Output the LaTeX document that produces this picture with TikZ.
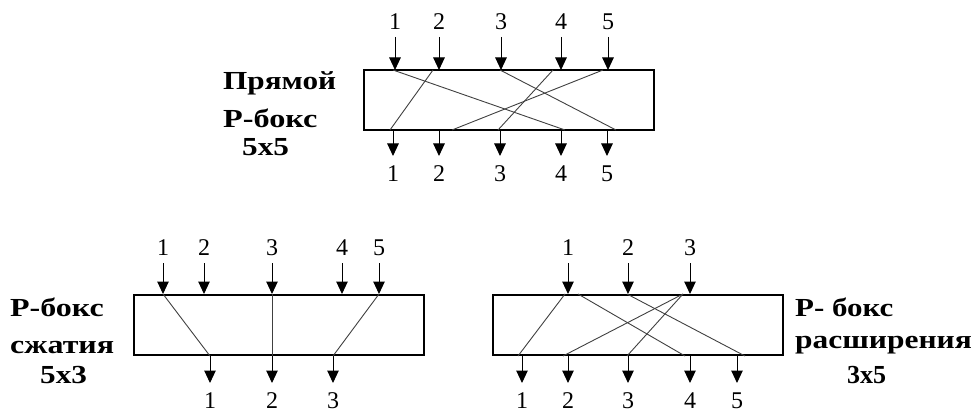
\documentclass[tikz,border=0pt]{standalone}
\usepackage{fontspec}
\setmainfont{Liberation Serif}
\usetikzlibrary{arrows.meta}
\tikzset{
  pbox/.style={draw, line width=1.7pt, minimum width=290pt, minimum height=60pt, inner sep=0pt},
  arr/.style={line width=1pt, -{Triangle[length=12.5pt,width=11.5pt]}},
  wire/.style={line width=0.9pt, black!75},
  num/.style={font=\fontsize{24}{24}\selectfont, inner sep=0pt},
  lbl/.style={font=\fontsize{26}{26}\bfseries\selectfont, inner sep=0pt, anchor=west}
}
\newcommand{\wide}[2]{\scalebox{#1}[1]{#2}}
\begin{document}
\begin{tikzpicture}[x=1pt,y=-1pt]
\useasboundingbox (0,0) rectangle (976,414);
% ---------- top box: straight P-box 5x5
\node[pbox] (B1) at (509,100) {};
\foreach \i/\x in {1/395,2/439,3/501,4/561,5/608}{
  \node[num] (ti\i) at (\x,22) {\i};
  \coordinate (tis\i) at (\x,37);
  \coordinate (tie\i) at (\x,70);
  \draw[arr] (tis\i) -- (tie\i);
}
\foreach \i/\x in {1/393,2/439,3/500,4/561,5/607}{
  \coordinate (tos\i) at (\x,130);
  \coordinate (toe\i) at (\x,156);
  \node[num] (to\i) at (\x,174) {\i};
  \draw[arr] (tos\i) -- (toe\i);
}
\foreach \a/\b [count=\k] in {393/565,433/390,500/616,553/498,603/452}{
  \coordinate (tw\k a) at (\a,70);
  \coordinate (tw\k b) at (\b,130);
  \draw[wire] (tw\k a) -- (tw\k b);
}
\node[lbl] (L1a) at (223,83) {\wide{1.2}{Прямой}};
\node[lbl] (L1b) at (223,118) {\wide{1.24}{Р-бокс}};
\node[lbl] (L1c) at (242,147) {\wide{1.2}{5x5}};
% ---------- bottom left: compression P-box 5x3
\node[pbox] (B2) at (279,325) {};
\foreach \i/\x in {1/163,2/204,3/272,4/342,5/379}{
  \node[num] (li\i) at (\x,248) {\i};
  \coordinate (lis\i) at (\x,263);
  \coordinate (lie\i) at (\x,294);
  \draw[arr] (lis\i) -- (lie\i);
}
\foreach \i/\x in {1/210,2/272,3/333}{
  \coordinate (los\i) at (\x,356);
  \coordinate (loe\i) at (\x,383);
  \node[num] (lo\i) at (\x,401) {\i};
  \draw[arr] (los\i) -- (loe\i);
}
\foreach \a/\b [count=\k] in {163/210,272/272,379/333}{
  \coordinate (lw\k a) at (\a,294);
  \coordinate (lw\k b) at (\b,356);
  \draw[wire] (lw\k a) -- (lw\k b);
}
\node[lbl] (L2a) at (10,307) {\wide{1.23}{Р-бокс}};
\node[lbl] (L2b) at (10,347) {\wide{1.23}{сжатия}};
\node[lbl] (L2c) at (40,375) {\wide{1.2}{5x3}};
% ---------- bottom right: expansion P-box 3x5
\node[pbox] (B3) at (638,325) {};
\foreach \i/\x in {1/568,2/628,3/690}{
  \node[num] (ri\i) at (\x,248) {\i};
  \coordinate (ris\i) at (\x,263);
  \coordinate (rie\i) at (\x,294);
  \draw[arr] (ris\i) -- (rie\i);
}
\foreach \i/\x in {1/522,2/568,3/628,4/690,5/737}{
  \coordinate (ros\i) at (\x,356);
  \coordinate (roe\i) at (\x,383);
  \node[num] (ro\i) at (\x,401) {\i};
  \draw[arr] (ros\i) -- (roe\i);
}
\foreach \a/\b [count=\k] in {565/518,578/685,627/745,683/563,683/627}{
  \coordinate (rw\k a) at (\a,294);
  \coordinate (rw\k b) at (\b,356);
  \draw[wire] (rw\k a) -- (rw\k b);
}
\node[lbl] (L3a) at (795,307) {\wide{1.19}{Р- бокс}};
\node[lbl] (L3b) at (795,345) {\wide{1.21}{расширения}};
\node[lbl] (L3c) at (847,375) {\wide{1.0}{3x5}};
\end{tikzpicture}
\end{document}
